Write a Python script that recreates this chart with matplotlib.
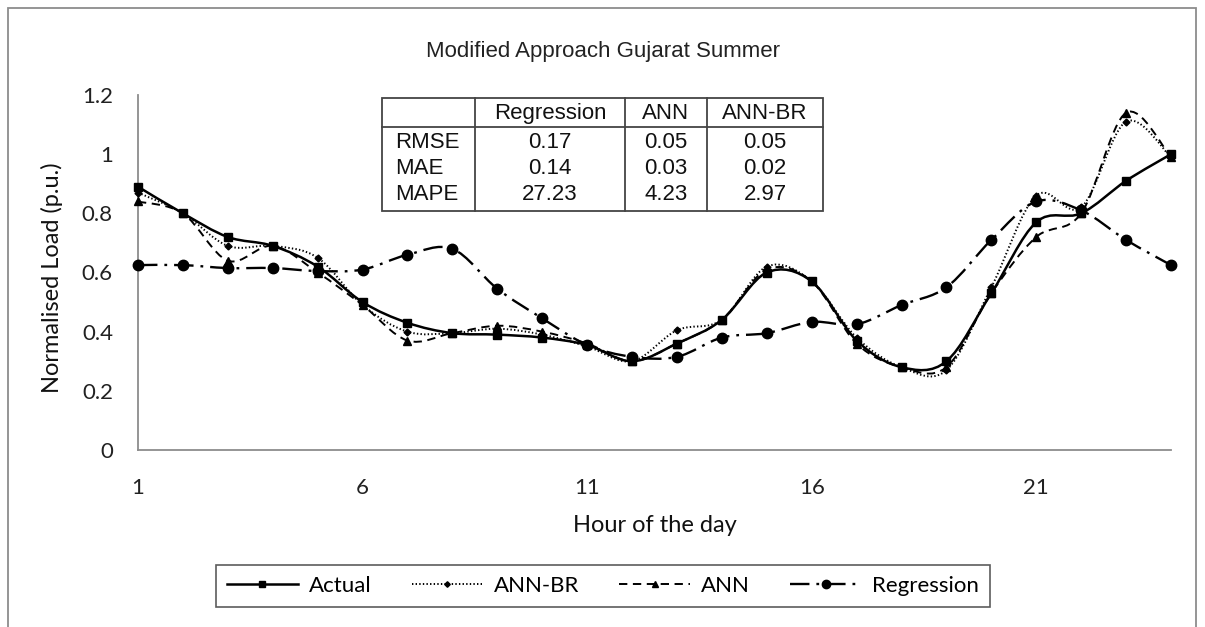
import numpy as np
import matplotlib
matplotlib.use('Agg')
import matplotlib.pyplot as plt
from matplotlib.path import Path
from matplotlib.patches import PathPatch, Rectangle
from matplotlib.lines import Line2D

# ---------------- data ----------------
hours = list(range(1, 25))
actual = [0.89, 0.80, 0.72, 0.69, 0.62, 0.50, 0.43, 0.395, 0.39, 0.38, 0.355, 0.30,
          0.36, 0.44, 0.60, 0.57, 0.37, 0.28, 0.30, 0.53, 0.77, 0.80, 0.91, 1.00]
ann_br = [0.87, 0.80, 0.69, 0.69, 0.65, 0.49, 0.40, 0.395, 0.41, 0.39, 0.35, 0.30,
          0.405, 0.44, 0.62, 0.57, 0.38, 0.28, 0.27, 0.55, 0.86, 0.82, 1.11, 0.99]
ann = [0.84, 0.80, 0.64, 0.69, 0.60, 0.49, 0.37, 0.395, 0.42, 0.40, 0.36, 0.30,
       0.36, 0.44, 0.61, 0.57, 0.36, 0.28, 0.28, 0.53, 0.72, 0.80, 1.14, 0.99]
regression = [0.625, 0.625, 0.615, 0.615, 0.605, 0.61, 0.66, 0.68, 0.545, 0.445, 0.355, 0.315,
              0.315, 0.38, 0.395, 0.433, 0.425, 0.49, 0.55, 0.71, 0.84, 0.81, 0.71, 0.625]

x_ticks = [1, 6, 11, 16, 21]
y_ticks = [0, 0.2, 0.4, 0.6, 0.8, 1.0, 1.2]
y_tick_labels = ['0', '0.2', '0.4', '0.6', '0.8', '1', '1.2']

metric_names = ['RMSE', 'MAE', 'MAPE']
method_names = ['Regression', 'ANN', 'ANN-BR']
regression_err = [0.17, 0.14, 27.23]
ann_err = [0.05, 0.03, 4.23]
ann_br_err = [0.05, 0.02, 2.97]

title = 'Modified Approach Gujarat Summer'
x_label = 'Hour of the day'
y_label = 'Normalised Load (p.u.)'

# ---------------- layout ----------------
W, H = 1205, 627
plt.rcParams['lines.scale_dashes'] = False
fig = plt.figure(figsize=(W / 100, H / 100), dpi=100)


def fx(x):
    return x / W


def fy(y):
    return 1 - y / H


AX_L, AX_R, AX_T, AX_B = 138, 1171, 95, 450
ax = fig.add_axes([fx(AX_L), fy(AX_B), fx(AX_R) - fx(AX_L), fy(AX_T) - fy(AX_B)])
ax.set_xlim(1, 24)
ax.set_ylim(0, 1.2)

axis_font = 'Lato'
arial = 'Liberation Sans'


def smooth_path(xs, ys):
    pts = np.column_stack([xs, ys]).astype(float)
    n = len(pts)
    verts = [pts[0]]
    codes = [Path.MOVETO]
    for i in range(n - 1):
        p0 = pts[i - 1] if i > 0 else pts[i]
        p1 = pts[i]
        p2 = pts[i + 1]
        p3 = pts[i + 2] if i + 2 < n else pts[i + 1]
        c1 = p1 + (p2 - p0) / 6.0
        c2 = p2 - (p3 - p1) / 6.0
        verts += [c1, c2, p2]
        codes += [Path.CURVE4] * 3
    return Path(verts, codes)


series = [
    (actual, 'Actual', dict(ls='-', lw=1.8), dict(marker='s', ms=5.5)),
    (ann_br, 'ANN-BR', dict(ls=(0, (1.0, 1.6)), lw=1.4), dict(marker='D', ms=3.5)),
    (ann, 'ANN', dict(ls=(0, (6, 4)), lw=1.4), dict(marker='^', ms=6)),
    (regression, 'Regression', dict(ls=(0, (14, 5, 2, 5)), lw=1.7), dict(marker='o', ms=7.5)),
]

handles = []
for vals, name, lstyle, mstyle in series:
    patch = PathPatch(smooth_path(hours, vals), fill=False, edgecolor='black',
                      linestyle=lstyle['ls'], linewidth=lstyle['lw'], zorder=3,
                      capstyle='butt')
    ax.add_patch(patch)
    ax.plot(hours, vals, linestyle='none', color='black', zorder=4, clip_on=False, **mstyle)
    handles.append(Line2D([], [], color='black', linestyle=lstyle['ls'],
                          linewidth=lstyle['lw'], markersize=mstyle['ms'] * 0.8,
                          marker=mstyle['marker']))

for s in ['top', 'right']:
    ax.spines[s].set_visible(False)
for s in ['left', 'bottom']:
    ax.spines[s].set_color('#8c8c8c')
    ax.spines[s].set_linewidth(1.3)

ax.set_xticks(x_ticks)
ax.set_xticklabels([str(t) for t in x_ticks], fontsize=16, family=axis_font, color='#222222')
ax.set_yticks(y_ticks)
ax.set_yticklabels(y_tick_labels, fontsize=16, family=axis_font, color='#222222')
ax.tick_params(length=0, pad=0)
ax.tick_params(axis='x', pad=20)
ax.tick_params(axis='y', pad=18)

fig.text(fx((AX_L + AX_R) / 2), fy(525), x_label, ha='center', va='center',
         fontsize=17, family=axis_font, color='#111111')
fig.text(fx(52), fy((AX_T + AX_B) / 2 + 5), y_label, ha='center', va='center',
         rotation=90, fontsize=17, family=axis_font, color='#111111')
fig.text(fx(603), fy(52), title, ha='center', va='center',
         fontsize=16, family=arial, color='#222222')

# ---------------- table ----------------
cols = [382, 475, 625, 707, 823]
t_top, t_head, t_bot = 98, 127, 211
fig.add_artist(Rectangle((fx(cols[0]), fy(t_bot)), fx(cols[-1]) - fx(cols[0]),
                         fy(t_top) - fy(t_bot), transform=fig.transFigure,
                         facecolor='white', edgecolor='#444444', lw=1.3, zorder=5))
for c in cols[1:-1]:
    fig.add_artist(Line2D([fx(c), fx(c)], [fy(t_top), fy(t_bot)], transform=fig.transFigure,
                          color='#444444', lw=1.3, zorder=6))
fig.add_artist(Line2D([fx(cols[0]), fx(cols[-1])], [fy(t_head), fy(t_head)],
                      transform=fig.transFigure, color='#444444', lw=1.3, zorder=6))
tfs = 16
for j, m in enumerate(method_names):
    cx = (cols[j + 1] + cols[j + 2]) / 2
    fig.text(fx(cx), fy((t_top + t_head) / 2 + 1), m, ha='center', va='center',
             fontsize=tfs, family=arial, color='#111111', zorder=7)
row_y = [142, 168, 194]
for i, name in enumerate(metric_names):
    fig.text(fx(cols[0] + 13), fy(row_y[i]), name, ha='left', va='center',
             fontsize=tfs, family=arial, color='#111111', zorder=7)
    for j, arr in enumerate([regression_err, ann_err, ann_br_err]):
        cx = (cols[j + 1] + cols[j + 2]) / 2
        fig.text(fx(cx), fy(row_y[i]), f'{arr[i]:.2f}', ha='center', va='center',
                 fontsize=tfs, family=arial, color='#111111', zorder=7)

# ---------------- legend ----------------
leg = fig.legend(handles, [s[1] for s in series], loc='center',
                 bbox_to_anchor=(fx(603), fy(586)), ncol=4, frameon=True,
                 fancybox=False, edgecolor='#333333', handlelength=3.2,
                 columnspacing=1.8, handletextpad=0.5, borderpad=0.5,
                 prop={'family': axis_font, 'size': 16})
leg.get_frame().set_linewidth(1.2)

# ---------------- outer border ----------------
fig.add_artist(Rectangle((fx(8), fy(H + 20)), fx(1196) - fx(8), fy(8) - fy(H + 20),
                         transform=fig.transFigure, fill=False,
                         edgecolor='#8c8c8c', lw=1.3, zorder=0))

fig.savefig('out.png', dpi=100, facecolor='white')
